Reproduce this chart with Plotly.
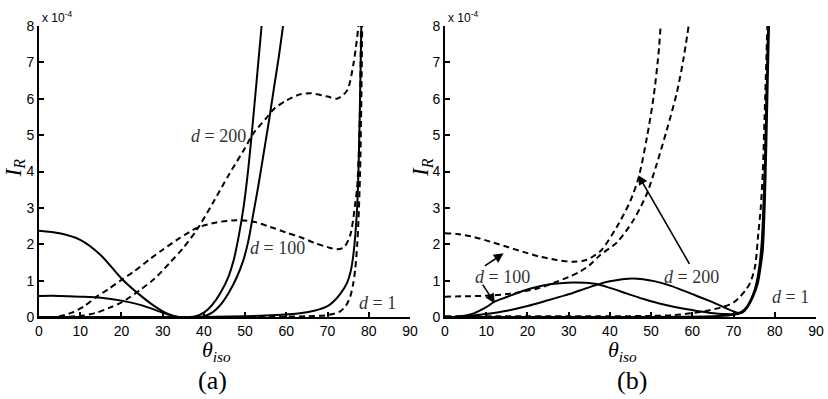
import plotly.graph_objects as go

# ---------------- data (panel a) ----------------
a_s1_x = [0, 5, 10, 15, 20, 24, 28, 31, 34, 36.5, 38, 40, 42, 44, 46, 47.2, 48.5, 49.6, 50.6, 51.5, 52.4, 53.2, 54]
a_s1_y = [2.37, 2.3, 2.12, 1.7, 1.06, 0.65, 0.3, 0.1, 0.0, 0.0, 0.02, 0.12, 0.33, 0.66, 1.12, 1.55, 2.25, 3.0, 3.9, 4.9, 6.0, 7.0, 8]

a_s2_x = [0, 5, 10, 15, 20, 25, 30, 33, 36, 38.5, 40, 42, 44, 46, 48, 49.6, 50.8, 52, 53.2, 54.5, 55.8, 57, 58.1, 59.2]
a_s2_y = [0.58, 0.58, 0.56, 0.53, 0.45, 0.32, 0.12, 0.01, 0.0, 0.0, 0.02, 0.12, 0.33, 0.66, 1.1, 1.57, 2.1, 2.85, 3.6, 4.5, 5.4, 6.3, 7.1, 8]

a_s3_x = [0, 40, 50, 55, 60, 63.3, 67, 70, 71.4, 73, 74.7, 75.6, 76.3, 77.1, 77.5, 77.8, 78.2]
a_s3_y = [0, 0, 0.02, 0.04, 0.07, 0.1, 0.18, 0.3, 0.42, 0.62, 0.93, 1.25, 1.75, 2.85, 4.0, 5.5, 8]

a_d100_x = [0, 4, 8, 11, 14, 17, 20, 23, 27, 30, 34, 38.3, 43, 48, 52, 56, 60, 63.3, 67, 70, 72.3, 74, 75.5, 76.7, 77.2, 77.6, 77.9, 78.1]
a_d100_y = [0, 0, 0.12, 0.3, 0.56, 0.78, 1.02, 1.25, 1.6, 1.85, 2.16, 2.45, 2.6, 2.66, 2.62, 2.48, 2.32, 2.2, 2.03, 1.92, 1.86, 1.92, 2.25, 3.1, 3.6, 4.6, 6.0, 8]

a_d200_x = [0, 5, 10, 14, 17, 20, 24.5, 28, 31.8, 35, 38.3, 42, 46, 50, 52, 55, 57, 60, 63.3, 66, 70, 72.3, 74.7, 76.3, 77.5]
a_d200_y = [0, 0, 0.03, 0.12, 0.25, 0.4, 0.74, 1.05, 1.5, 1.9, 2.4, 3.1, 3.9, 4.65, 5.05, 5.45, 5.72, 5.95, 6.12, 6.15, 6.06, 6.0, 6.22, 6.97, 8]

a_d1_x = [0, 50, 60, 65, 69.8, 73, 74.5, 75.5, 76.2, 76.7, 77.2, 77.5, 77.9, 78.2, 78.4]
a_d1_y = [0, 0, 0.01, 0.02, 0.05, 0.15, 0.32, 0.56, 0.9, 1.3, 2.0, 2.66, 4.0, 6.0, 8]

# ---------------- data (panel b) ----------------
b_dC_x = [0, 3, 7, 11, 15, 19, 23, 27, 31, 34, 37.6, 41.7, 45, 47, 49, 50.6, 51.8, 52.3]
b_dC_y = [2.3, 2.28, 2.2, 2.07, 1.93, 1.79, 1.66, 1.57, 1.52, 1.56, 1.8, 2.48, 3.2, 3.85, 4.95, 6.05, 7.24, 8]

b_dD_x = [0, 5, 10.9, 15, 19, 23, 27.1, 30, 32.8, 35, 37.6, 41.7, 45.7, 49, 51.4, 53.8, 56.2, 57.8, 59.1]
b_dD_y = [0.56, 0.57, 0.59, 0.63, 0.7, 0.8, 0.97, 1.1, 1.25, 1.42, 1.7, 2.05, 2.66, 3.4, 4.22, 5.14, 6.15, 7.06, 8]

b_sE_x = [0, 2, 4, 7, 10, 12, 15, 19, 22, 25.5, 28, 31, 34, 37, 40, 44, 48, 52, 56, 60, 64, 68, 71, 72, 73.2, 74.5, 75.7, 76.4, 76.9, 77.4, 77.7, 78.1, 78.4]
b_sE_y = [0, 0, 0.02, 0.1, 0.27, 0.42, 0.55, 0.72, 0.82, 0.9, 0.93, 0.95, 0.94, 0.9, 0.8, 0.65, 0.5, 0.37, 0.27, 0.19, 0.12, 0.08, 0.09, 0.15, 0.28, 0.55, 0.93, 1.4, 1.84, 3.2, 4.5, 6.5, 8]

b_sF_x = [0, 3, 6, 10, 15, 20, 25, 28, 31, 34, 37, 40, 43, 45.5, 48, 51, 55, 60, 64, 68, 71, 72.2, 73.4, 74.7, 75.9, 76.6, 77.1, 77.6, 77.9, 78.3, 78.6]
b_sF_y = [0, 0, 0.03, 0.08, 0.17, 0.3, 0.46, 0.56, 0.66, 0.78, 0.89, 0.98, 1.04, 1.06, 1.04, 0.98, 0.85, 0.63, 0.45, 0.25, 0.12, 0.13, 0.28, 0.55, 0.93, 1.4, 1.84, 3.2, 4.5, 6.5, 8]

b_sH_x = [0, 65, 70, 72, 73.5, 75, 76, 76.8, 77.3, 77.7, 78.1, 78.4]
b_sH_y = [0, 0.02, 0.06, 0.12, 0.3, 0.7, 1.2, 2.0, 3.2, 4.5, 6.5, 8]

b_dG_x = [0, 40, 50, 55, 59.5, 63, 67.5, 70, 71.6, 73, 74, 75.2, 76, 76.6, 77.1, 77.5, 78, 78.2]
b_dG_y = [0.02, 0.02, 0.03, 0.05, 0.1, 0.16, 0.28, 0.4, 0.56, 0.75, 0.93, 1.38, 2.3, 3.0, 4.0, 5.4, 7.25, 8]

x_ticks = [0, 10, 20, 30, 40, 50, 60, 70, 80, 90]
y_ticks = [0, 1, 2, 3, 4, 5, 6, 7, 8]

W, H = 828, 399

def px_x(p):
    return p / W

def px_y(p):
    return 1 - p / H

fig = go.Figure()

panel_a = [
    (a_s1_x, a_s1_y, "solid"), (a_s2_x, a_s2_y, "solid"), (a_s3_x, a_s3_y, "solid"),
    (a_d100_x, a_d100_y, "dash"), (a_d200_x, a_d200_y, "dash"), (a_d1_x, a_d1_y, "dash"),
]
panel_b = [
    (b_dC_x, b_dC_y, "dash"), (b_dD_x, b_dD_y, "dash"), (b_dG_x, b_dG_y, "dash"),
    (b_sE_x, b_sE_y, "solid"), (b_sF_x, b_sF_y, "solid"), (b_sH_x, b_sH_y, "solid"),
]

def line_style(d):
    return dict(color="black", width=2, dash="6px,4px" if d == "dash" else "solid",
                shape="spline", smoothing=0.8)

for xs, ys, d in panel_a:
    fig.add_trace(go.Scatter(x=xs, y=ys, mode="lines", xaxis="x", yaxis="y",
                             line=line_style(d), showlegend=False, hoverinfo="skip"))
for xs, ys, d in panel_b:
    fig.add_trace(go.Scatter(x=xs, y=ys, mode="lines", xaxis="x2", yaxis="y2",
                             line=line_style(d), showlegend=False, hoverinfo="skip"))

tickfont = dict(family="Liberation Sans, Arial, sans-serif", size=14, color="black")
xaxis_common = dict(range=[0, 90], tickvals=x_ticks, ticktext=[str(v) for v in x_ticks],
                    showline=True, linecolor="black", linewidth=2, ticks="inside", ticklen=5,
                    tickwidth=1.5, tickcolor="black", showgrid=False, zeroline=False,
                    tickfont=tickfont, fixedrange=True, automargin=False)
yaxis_common = dict(range=[0, 8], tickvals=y_ticks, ticktext=[str(v) for v in y_ticks],
                    showline=True, linecolor="black", linewidth=2, ticks="inside", ticklen=5,
                    tickwidth=1.5, tickcolor="black", showgrid=False, zeroline=False,
                    tickfont=tickfont, fixedrange=True, automargin=False)

ydom = [px_y(317), px_y(26)]
fig.update_layout(
    width=W, height=H, margin=dict(l=0, r=0, t=0, b=0, autoexpand=False),
    paper_bgcolor="white", plot_bgcolor="white",
    xaxis=dict(domain=[px_x(39), px_x(410)], anchor="y", **xaxis_common),
    yaxis=dict(domain=ydom, anchor="x", **yaxis_common),
    xaxis2=dict(domain=[px_x(445), px_x(816)], anchor="y2", **xaxis_common),
    yaxis2=dict(domain=ydom, anchor="x2", **yaxis_common),
)

serif = "Liberation Serif, Times New Roman, serif"
lab_font = dict(family=serif, size=18, color="#333")
ann = []
# curve labels panel a
ann.append(dict(x=50.6, y=4.97, xref="x", yref="y", text="<i>d</i> = 200", showarrow=False,
                xanchor="right", yanchor="middle", font=lab_font))
ann.append(dict(x=50.7, y=1.9, xref="x", yref="y", text="<i>d</i> = 100", showarrow=False,
                xanchor="left", yanchor="middle", font=lab_font))
ann.append(dict(x=77.2, y=0.38, xref="x", yref="y", text="<i>d</i> = 1", showarrow=False,
                xanchor="left", yanchor="middle", font=lab_font))
# curve labels panel b
ann.append(dict(x=6.8, y=1.1, xref="x2", yref="y2", text="<i>d</i> = 100", showarrow=False,
                xanchor="left", yanchor="middle", font=lab_font))
ann.append(dict(x=52.6, y=1.1, xref="x2", yref="y2", text="<i>d</i> = 200", showarrow=False,
                xanchor="left", yanchor="middle", font=lab_font))
ann.append(dict(x=78.9, y=0.56, xref="x2", yref="y2", text="<i>d</i> = 1", showarrow=False,
                xanchor="left", yanchor="middle", font=lab_font))
# arrows panel b
for (tx, ty, hx, hy) in [(9.3, 1.38, 14.2, 1.75), (8.9, 0.93, 12.1, 0.38), (59.5, 1.42, 46.9, 3.9)]:
    ann.append(dict(x=hx, y=hy, ax=tx, ay=ty, xref="x2", yref="y2", axref="x2", ayref="y2",
                    text="", showarrow=True, arrowhead=2, arrowsize=1.2, arrowwidth=1.6,
                    arrowcolor="black"))
# exponent labels
for xp in (40, 446):
    ann.append(dict(x=px_x(xp), y=px_y(17), xref="paper", yref="paper",
                    text="x 10<sup>-4</sup>", showarrow=False, xanchor="left", yanchor="middle",
                    font=dict(family="Liberation Sans, Arial, sans-serif", size=12, color="black")))
# axis titles
for xp in (14.5, 422):
    ann.append(dict(x=px_x(xp), y=px_y(168), xref="paper", yref="paper",
                    text="<i>I</i><sub><i>R</i></sub>", showarrow=False, textangle=-90,
                    xanchor="center", yanchor="middle",
                    font=dict(family=serif, size=23, color="black")))
for xp in (216, 622):
    ann.append(dict(x=px_x(xp), y=px_y(351), xref="paper", yref="paper",
                    text="<i>θ</i><sub><i>iso</i></sub>", showarrow=False,
                    xanchor="center", yanchor="middle",
                    font=dict(family=serif, size=22, color="black")))
for xp, t in ((212, "(a)"), (632, "(b)")):
    ann.append(dict(x=px_x(xp), y=px_y(380), xref="paper", yref="paper",
                    text=t, showarrow=False, xanchor="center", yanchor="middle",
                    font=dict(family=serif, size=26, color="black")))

fig.update_layout(annotations=ann)
fig.write_html("out.html", config={"displayModeBar": False},
               post_script="document.body.style.margin='0';document.body.style.overflow='hidden';")
